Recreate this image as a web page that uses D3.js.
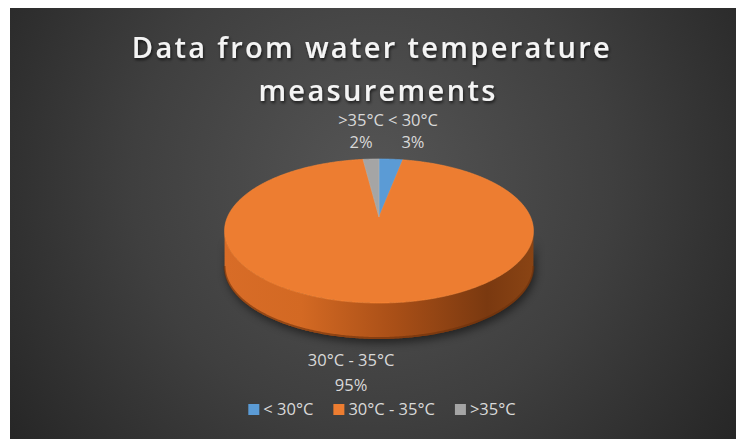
<!DOCTYPE html>
<html>
<head>
<meta charset="utf-8">
<script src="https://cdn.jsdelivr.net/npm/d3@7"></script>
<style>
  html, body { margin: 0; padding: 0; background: #ffffff; }
  svg { display: block; }
  text { font-family: "Open Sans", "Noto Sans", sans-serif; }
</style>
</head>
<body>
<svg id="chart" width="736" height="439"></svg>
<script>
// Water temperature measurement shares
const categories = ["< 30°C", "30°C - 35°C", ">35°C"];
const shares = [3, 95, 2];
const sliceColors = ["#5B9BD5", "#ED7D31", "#A5A5A5"];
const titleLines = ["Data from water temperature", "measurements"];

const W = 736, H = 439;
const svg = d3.select("#chart");
const defs = svg.append("defs");

// background panel with a soft radial light
const bg = defs.append("radialGradient").attr("id", "bgGrad")
  .attr("gradientUnits", "userSpaceOnUse")
  .attr("cx", 372).attr("cy", 180).attr("r", 480);
bg.append("stop").attr("offset", 0).attr("stop-color", "#555555");
bg.append("stop").attr("offset", 0.5).attr("stop-color", "#3f3f3f");
bg.append("stop").attr("offset", 1).attr("stop-color", "#222222");
svg.append("rect").attr("x", 10).attr("y", 8).attr("width", W - 10).attr("height", H - 8)
  .attr("fill", "url(#bgGrad)");

// filters
const ts = defs.append("filter").attr("id", "titleShadow")
  .attr("x", "-10%").attr("y", "-30%").attr("width", "120%").attr("height", "160%");
ts.append("feDropShadow").attr("dx", 1).attr("dy", 2).attr("stdDeviation", 1.6)
  .attr("flood-color", "#000").attr("flood-opacity", 0.65);
const ps = defs.append("filter").attr("id", "pieShadow")
  .attr("x", "-20%").attr("y", "-20%").attr("width", "140%").attr("height", "140%");
ps.append("feGaussianBlur").attr("stdDeviation", 4);

// side wall shading
const side = defs.append("linearGradient").attr("id", "sideGrad")
  .attr("x1", 0).attr("x2", 1).attr("y1", 0).attr("y2", 0);
[[0, "#d86c27"], [0.25, "#d36923"], [0.55, "#a94f17"], [0.85, "#7a3910"], [1, "#8a4414"]]
  .forEach(([o, c]) => side.append("stop").attr("offset", o).attr("stop-color", c));

// perspective disc projection
const cx = 379, cy0 = 217, rx0 = 151.5, ry0 = 69.3, persp = 0.1944, depth = 36;
function proj(theta, r = 1, drop = 0) {
  const u = r * Math.sin(theta), v = -r * Math.cos(theta);
  const w = 1 - persp * v;
  return [cx + rx0 * u / w, cy0 + ry0 * v / w + drop];
}
function arcPoints(a0, a1, r = 1, drop = 0) {
  const n = Math.max(2, Math.ceil(Math.abs(a1 - a0) / (Math.PI / 360)));
  return d3.range(n + 1).map(i => proj(a0 + (a1 - a0) * i / n, r, drop));
}

const data = categories.map((c, i) => ({ name: c, value: shares[i] }));
const color = d3.scaleOrdinal().domain(categories).range(sliceColors);
const arcs = d3.pie().sort(null).value(d => d.value)
  .startAngle(0).endAngle(2 * Math.PI)(data);

const line = d3.line();

// visible front wall: between the two silhouette tangents
const tR = Math.acos(-persp), tL = 2 * Math.PI - tR;
const topEdge = arcPoints(tR, tL);
const botEdge = arcPoints(tL, tR, 1, depth);
const g = svg.append("g");

// soft shadow under the disc
g.append("path")
  .attr("d", line(topEdge.map(p => [p[0] + 2, p[1] + 6]).concat(botEdge.map(p => [p[0] + 2, p[1] + 4]))) + "Z")
  .attr("fill", "#000").attr("opacity", 0.5).attr("filter", "url(#pieShadow)");

g.append("path")
  .attr("d", line(topEdge.concat(botEdge)) + "Z")
  .attr("fill", "url(#sideGrad)");
// darker rim along the bottom edge
g.append("path")
  .attr("d", line(arcPoints(tR, tL, 1, depth - 1)))
  .attr("fill", "none").attr("stroke", "#6a300c").attr("stroke-width", 2).attr("opacity", 0.6);

// top faces
g.selectAll("path.slice").data(arcs).join("path")
  .attr("class", "slice")
  .attr("d", d => line([proj(0, 0)].concat(arcPoints(d.startAngle, d.endAngle))) + "Z")
  .attr("fill", d => color(d.data.name))
  .attr("stroke", d => d3.color(color(d.data.name)).brighter(0.25))
  .attr("stroke-width", 0.6);

// data labels
const labelColor = "#d9d9d9";
const labelFont = 16.5;
const labels = svg.append("g").attr("fill", labelColor).attr("font-size", labelFont);

function addLabel(x, y1, y2, d) {
  const t = labels.append("g");
  t.append("text").attr("x", x).attr("y", y1).attr("text-anchor", "middle").text(d.data.name);
  t.append("text").attr("x", x).attr("y", y2).attr("text-anchor", "middle")
    .text(Math.round(d.value / d3.sum(shares) * 100) + "%");
  return t;
}

// back labels sit above the rim, spread apart so they do not overlap
const backArcs = arcs.filter(d => { const m = (d.startAngle + d.endAngle) / 2; return m < Math.PI / 2 || m > 1.5 * Math.PI; });
const frontArcs = arcs.filter(d => !backArcs.includes(d));
const topY = proj(0)[1];
const backInfo = backArcs.map(d => {
  let m = (d.startAngle + d.endAngle) / 2;
  if (m > Math.PI) m -= 2 * Math.PI;
  return { d, m, x: proj(m)[0] };
}).sort((a, b) => a.m - b.m);
const meas = svg.append("text").attr("font-size", labelFont).attr("opacity", 0);
backInfo.forEach(b => { meas.text(b.d.data.name); b.w = meas.node().getComputedTextLength(); });
for (let i = 1; i < backInfo.length; i++) {
  const a = backInfo[i - 1], b = backInfo[i];
  const need = a.w / 2 + b.w / 2 + 4;
  if (b.x - a.x < need) {
    const mid = (a.x + b.x) / 2 + 6;
    a.x = mid - need / 2; b.x = mid + need / 2;
  }
}
backInfo.forEach(b => addLabel(b.x, topY - 33, topY - 11, b.d));

frontArcs.forEach(d => {
  const m = (d.startAngle + d.endAngle) / 2;
  const p = proj(m, 1, depth);
  addLabel(p[0] - 22, p[1] + 27, p[1] + 52, d);
});
meas.remove();

// title
const title = svg.append("g").attr("fill", "#f4f4f4").attr("font-size", 29)
  .attr("font-weight", 600).attr("filter", "url(#titleShadow)");
const t1 = title.append("text").attr("x", 372).attr("y", 58).attr("text-anchor", "middle").text(titleLines[0]);
const t2 = title.append("text").attr("x", 378).attr("y", 101).attr("text-anchor", "middle").text(titleLines[1]);
// widen letter spacing so the first line spans its full width
const baseW = t1.node().getComputedTextLength();
const ls = Math.max(0, (478 - baseW) / (titleLines[0].length - 1));
t1.attr("letter-spacing", ls);
t2.attr("letter-spacing", ls);

// legend
const legend = svg.append("g").attr("font-size", labelFont).attr("fill", labelColor);
const sq = 11, gapIn = 4, gapOut = 20;
let xPos = 0;
categories.forEach(c => {
  const it = legend.append("g");
  it.append("rect").attr("width", sq).attr("height", sq).attr("y", -sq).attr("fill", color(c));
  const tx = it.append("text").attr("x", sq + gapIn).attr("y", 0).text(c);
  const w = sq + gapIn + tx.node().getComputedTextLength();
  it.attr("transform", `translate(${xPos},415)`);
  xPos += w + gapOut;
});
const totalW = xPos - gapOut;
legend.attr("transform", `translate(${382 - totalW / 2},0)`);
</script>
</body>
</html>
